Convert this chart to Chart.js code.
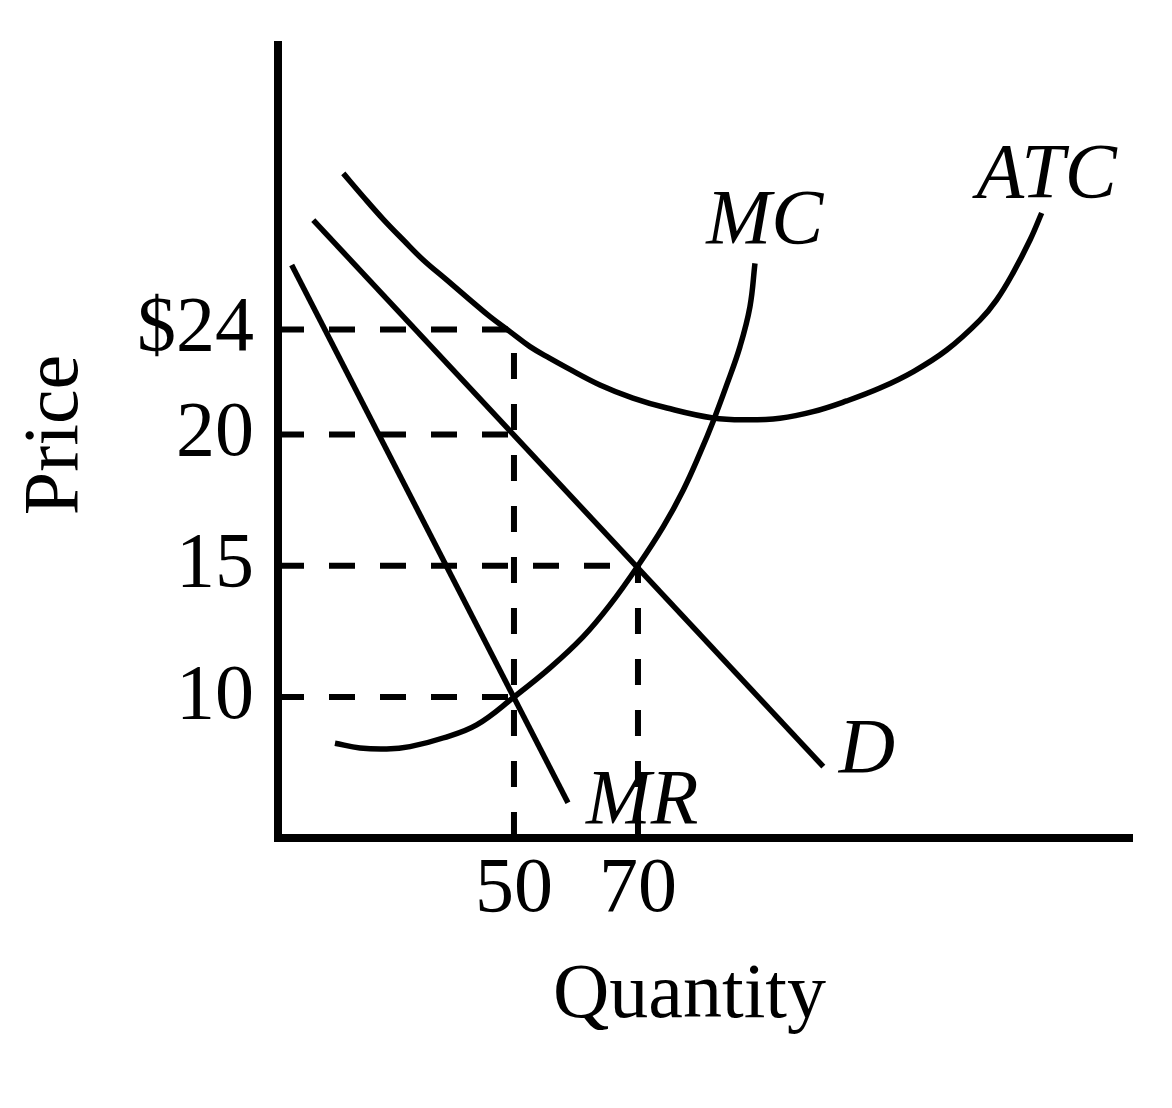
<!DOCTYPE html>
<html>
<head>
<meta charset="utf-8">
<script src="https://cdn.jsdelivr.net/npm/chart.js@4.4.1/dist/chart.umd.min.js"></script>
<style>
  body { margin: 0; background: #fff; }
  canvas { display: block; }
</style>
</head>
<body>
<canvas id="grafico" width="1172" height="1108"></canvas>
<script>
// tick labels
const quantityTicks = [50, 70]
const priceTicks = [10, 15, 20, 24]

// axis range (values at the axis lines)
const qMin = 11.94, qMax = 149.68
const pMin = 4.63, pMax = 34.84

// marginal revenue and demand (straight lines)
const mrQ = [14.15, 58.71]
const mrP = [26.46, 5.97]
const dQ = [17.63, 99.89]
const dP = [28.17, 7.35]

// marginal cost
const mcQ = [21.13, 25.16, 29.47, 33.23, 38.55, 43.98, 50, 55.81, 61.13, 65.48, 70, 74.08, 77.31, 80.0, 82.15, 84.31, 86.45, 88.06, 88.87]
const mcP = [8.24, 8.06, 8.02, 8.11, 8.44, 8.94, 10, 11.11, 12.29, 13.51, 15, 16.49, 17.89, 19.29, 20.52, 21.89, 23.35, 24.87, 26.52]

// average total cost
const atcQ = [22.47, 25.69, 28.92, 32.15, 35.37, 39.15, 42.90, 46.13, 49.35, 52.58, 55.81, 58.50, 63.87, 69.19, 74.68, 82.10, 87.53, 92.90, 98.23, 103.66, 109.03, 114.35, 119.79, 125.16, 127.85, 130.48, 133.23, 135.11]
const atcP = [29.95, 29.06, 28.20, 27.41, 26.65, 25.89, 25.13, 24.49, 23.92, 23.35, 22.90, 22.55, 21.89, 21.39, 21.01, 20.63, 20.56, 20.62, 20.87, 21.28, 21.77, 22.39, 23.22, 24.36, 25.13, 26.15, 27.41, 28.44]

// dashed guide points
const guideQ = [50, 50, 70, 50]
const guideP = [24, 20, 15, 10]

// curve names and where they sit
const curveLabels = [
    { text: "MC", q: 81.0, p: 27.30 },
    { text: "ATC", q: 124.6, p: 29.05 },
    { text: "D", q: 102.4, p: 7.15 },
    { text: "MR", q: 61.6, p: 5.20 }
]

const serif = '"Liberation Serif", "Times New Roman", serif'
const zip = (xs, ys) => xs.map((x, i) => ({ x, y: ys[i] }))

const datasets = []

// horizontal dashes from the price axis to each point
guideQ.forEach((q, i) => {
    datasets.push({ data: [{ x: qMin, y: guideP[i] }, { x: q, y: guideP[i] }], borderDash: [26, 25], borderWidth: 6 })
})
// vertical dashes from the quantity axis up to the highest point at that q
new Set(guideQ).forEach(q => {
    const top = Math.max(...guideP.filter((p, i) => guideQ[i] === q))
    datasets.push({ data: [{ x: q, y: pMin }, { x: q, y: top }], borderDash: [26, 25], borderWidth: 6 })
})

datasets.push({ data: zip(mrQ, mrP), borderWidth: 5.5 })
datasets.push({ data: zip(dQ, dP), borderWidth: 5.5 })
datasets.push({ data: zip(mcQ, mcP), borderWidth: 5.5, tension: 0.4 })
datasets.push({ data: zip(atcQ, atcP), borderWidth: 5.5, tension: 0.4 })

datasets.forEach(ds => {
    ds.borderColor = "#000"
    ds.pointRadius = 0
    ds.fill = false
    ds.borderCapStyle = "butt"
})

const textoPlugin = {
    id: "texto",
    afterDraw(chart) {
        const ctx = chart.ctx
        const ca = chart.chartArea
        const x = chart.scales.x
        const y = chart.scales.y
        ctx.save()
        ctx.fillStyle = "#000"
        ctx.textBaseline = "alphabetic"

        ctx.font = "italic 78px " + serif
        ctx.textAlign = "left"
        curveLabels.forEach(l => {
            ctx.fillText(l.text, x.getPixelForValue(l.q), y.getPixelForValue(l.p))
        })

        ctx.font = "78px " + serif
        ctx.textAlign = "center"
        ctx.fillText("Quantity", ca.left + 411.5, ca.bottom + 179)

        ctx.translate(ca.left - 201, ca.top + 390)
        ctx.rotate(-Math.PI / 2)
        ctx.fillText("Price", 0, 0)
        ctx.restore()
    }
}

// keep the plot box where the picture has it
const noPadding = s => {
    s.paddingTop = 0
    s.paddingBottom = 0
    s.paddingLeft = 0
    s.paddingRight = 0
}

const ctx = document.getElementById("grafico")

new Chart(ctx, {
    type: "line",
    data: { datasets },
    plugins: [textoPlugin],
    options: {
        responsive: false,
        animation: false,
        layout: { padding: { top: 45, right: 40, left: 0, bottom: 0 } },
        plugins: { legend: { display: false }, tooltip: { enabled: false } },
        scales: {
            x: {
                type: "linear",
                min: qMin,
                max: qMax,
                grid: { display: false, drawTicks: false },
                border: { display: true, width: 8, color: "#000" },
                afterBuildTicks: s => { s.ticks = quantityTicks.map(v => ({ value: v })) },
                afterFit: s => { s.height = 270; noPadding(s) },
                ticks: { color: "#000", padding: 6, autoSkip: false, maxRotation: 0, font: { family: serif, size: 78 } }
            },
            y: {
                type: "linear",
                min: pMin,
                max: pMax,
                grid: { display: false, drawTicks: false },
                border: { display: true, width: 8, color: "#000" },
                afterBuildTicks: s => { s.ticks = priceTicks.map(v => ({ value: v })) },
                afterFit: s => { s.width = 278; noPadding(s) },
                ticks: {
                    color: "#000", padding: 24, autoSkip: false, font: { family: serif, size: 78 },
                    callback: v => v === 24 ? "$24" : String(v)
                }
            }
        }
    }
})
</script>
</body>
</html>
